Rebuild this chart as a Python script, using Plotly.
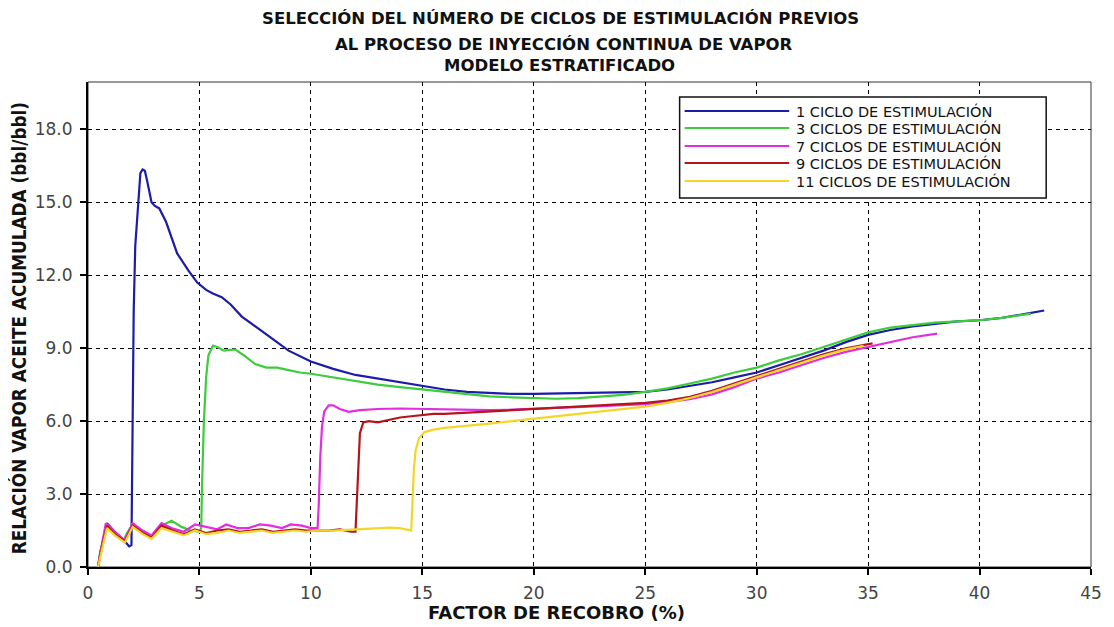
import plotly.graph_objects as go

# ---------------- data ----------------
series_names = [
    "1 CICLO DE ESTIMULACIÓN",
    "3 CICLOS DE ESTIMULACIÓN",
    "7 CICLOS DE ESTIMULACIÓN",
    "9 CICLOS DE ESTIMULACIÓN",
    "11 CICLOS DE ESTIMULACIÓN",
]

x_1ciclo = [0.45, 0.55, 0.85, 1.2, 1.5, 1.85, 1.95, 2.0, 2.05, 2.12, 2.25, 2.35, 2.45, 2.55,
            2.65, 2.85, 3.0, 3.2, 3.5, 4.0, 4.5, 4.9, 5.3, 5.6, 6.0, 6.4, 6.9, 7.5, 8.0, 9.0,
            10.0, 11.0, 12.0, 13.0, 14.0, 15.0, 16.0, 17.0, 18.0, 19.0, 20.0, 21.0, 22.0, 23.0,
            24.0, 25.0, 26.0, 27.0, 28.0, 29.0, 30.0, 31.0, 32.0, 33.0, 34.0, 35.0, 36.0, 37.0,
            38.0, 39.0, 40.0, 41.0, 42.0, 42.9]
y_1ciclo = [0.0, 0.6, 1.8, 1.45, 1.2, 0.85, 0.9, 5.0, 10.5, 13.2, 14.8, 16.2, 16.35, 16.3,
            15.9, 15.0, 14.85, 14.75, 14.2, 12.9, 12.2, 11.7, 11.4, 11.25, 11.1, 10.8, 10.3, 9.9,
            9.6, 8.9, 8.45, 8.15, 7.9, 7.75, 7.6, 7.45, 7.3, 7.2, 7.15, 7.12, 7.12, 7.13, 7.15,
            7.15, 7.17, 7.2, 7.3, 7.45, 7.6, 7.8, 8.0, 8.3, 8.6, 8.9, 9.25, 9.55, 9.75, 9.9,
            10.0, 10.1, 10.15, 10.25, 10.4, 10.55]

x_3ciclos = [0.45, 0.55, 0.85, 1.2, 1.6, 1.75, 2.0, 2.4, 2.85, 3.3, 3.75, 4.2, 4.6, 5.0, 5.08,
             5.12, 5.2, 5.3, 5.4, 5.6, 5.8, 6.1, 6.6, 7.0, 7.5, 8.0, 8.5, 9.0, 9.5, 10.0, 11.0,
             12.0, 13.0, 14.0, 15.0, 16.0, 17.0, 18.0, 19.0, 20.0, 21.0, 22.0, 23.0, 24.0, 25.0,
             26.0, 27.0, 28.0, 29.0, 30.0, 31.0, 32.0, 33.0, 34.0, 35.0, 36.0, 37.0, 38.0, 39.0,
             40.0, 41.0, 42.3]
y_3ciclos = [0.0, 0.6, 1.75, 1.4, 1.1, 1.4, 1.75, 1.5, 1.25, 1.7, 1.9, 1.65, 1.5, 1.45, 1.6,
             3.5, 6.0, 7.8, 8.7, 9.1, 9.05, 8.9, 8.95, 8.7, 8.35, 8.2, 8.2, 8.1, 8.0, 7.95, 7.8,
             7.65, 7.5, 7.4, 7.3, 7.2, 7.1, 7.02, 6.98, 6.95, 6.92, 6.95, 7.0, 7.08, 7.2,
             7.35, 7.55, 7.75, 8.0, 8.2, 8.5, 8.75, 9.05, 9.35, 9.65, 9.85, 9.95, 10.05, 10.1,
             10.15, 10.25, 10.42]

x_7ciclos = [0.45, 0.55, 0.8, 1.2, 1.65, 2.0, 2.45, 2.85, 3.3, 3.75, 4.3, 4.8, 5.3, 5.8, 6.2,
             6.7, 7.2, 7.7, 8.2, 8.7, 9.1, 9.6, 10.0, 10.3, 10.35, 10.42, 10.5, 10.6, 10.8, 11.0,
             11.3, 11.7, 12.2, 13.0, 14.0, 15.0, 16.0, 17.0, 18.0, 19.0, 20.0, 21.0, 22.0, 23.0,
             24.0, 25.0, 26.0, 27.0, 28.0, 29.0, 30.0, 31.0, 32.0, 33.0, 34.0, 35.0, 36.0, 37.0,
             38.1]
y_7ciclos = [0.0, 0.5, 1.8, 1.45, 1.1, 1.8, 1.5, 1.3, 1.8, 1.6, 1.45, 1.75, 1.65, 1.55, 1.75,
             1.6, 1.6, 1.75, 1.7, 1.6, 1.75, 1.7, 1.6, 1.6, 2.5, 4.5, 5.8, 6.4, 6.65, 6.65,
             6.5, 6.38, 6.45, 6.5, 6.52, 6.5, 6.48, 6.45, 6.45, 6.47, 6.5, 6.55, 6.58, 6.62,
             6.66, 6.7, 6.78, 6.9, 7.1, 7.4, 7.75, 8.0, 8.3, 8.6, 8.85, 9.05, 9.25, 9.45,
             9.6]

x_9ciclos = [0.45, 0.55, 0.85, 1.2, 1.65, 2.0, 2.45, 2.85, 3.3, 3.8, 4.3, 4.8, 5.3, 5.8, 6.3,
             6.8, 7.3, 7.8, 8.3, 8.8, 9.3, 9.8, 10.3, 10.8, 11.3, 11.8, 12.0, 12.05, 12.12, 12.2,
             12.35, 12.6, 13.0, 13.5, 14.0, 14.5, 15.0, 15.5, 16.0, 17.0, 18.0, 19.0, 20.0, 21.0,
             22.0, 23.0, 24.0, 25.0, 26.0, 27.0, 28.0, 29.0, 30.0, 31.0, 32.0, 33.0, 34.0, 35.2]
y_9ciclos = [0.0, 0.5, 1.7, 1.35, 1.05, 1.7, 1.4, 1.2, 1.7, 1.5, 1.35, 1.55, 1.4, 1.5, 1.55,
             1.45, 1.5, 1.55, 1.45, 1.5, 1.55, 1.5, 1.5, 1.5, 1.55, 1.45, 1.45, 2.5, 4.5, 5.5,
             5.95, 6.0, 5.95, 6.05, 6.15, 6.2, 6.25, 6.3, 6.3, 6.35, 6.4, 6.45, 6.5, 6.55,
             6.6, 6.65, 6.7, 6.75, 6.85, 7.0, 7.25, 7.55, 7.85, 8.15, 8.45, 8.75, 9.0, 9.2]

x_11ciclos = [0.45, 0.55, 0.85, 1.2, 1.65, 2.0, 2.45, 2.85, 3.3, 3.8, 4.3, 4.8, 5.3, 5.8, 6.3,
              6.8, 7.3, 7.8, 8.3, 8.8, 9.3, 9.8, 10.3, 11.0, 12.0, 12.5, 13.0, 13.5, 14.0, 14.5,
              14.55, 14.62, 14.7, 14.85, 15.1, 15.5, 16.0, 17.0, 18.0, 19.0, 20.0, 21.0, 22.0,
              23.0, 24.0, 25.0, 26.0, 27.0, 28.0, 29.0, 30.0, 31.0, 32.0, 33.0, 34.0, 34.8]
y_11ciclos = [0.0, 0.4, 1.6, 1.3, 1.0, 1.65, 1.35, 1.15, 1.6, 1.45, 1.3, 1.5, 1.35, 1.4, 1.5,
              1.4, 1.45, 1.5, 1.4, 1.45, 1.5, 1.45, 1.5, 1.5, 1.55, 1.6, 1.6, 1.62, 1.6, 1.5,
              2.5, 4.0, 4.8, 5.3, 5.55, 5.65, 5.72, 5.8, 5.9, 6.0, 6.1, 6.2, 6.3,
              6.4, 6.5, 6.6, 6.75, 6.95, 7.2, 7.5, 7.8, 8.1, 8.4, 8.7, 8.95, 9.1]

series_x = [x_1ciclo, x_3ciclos, x_7ciclos, x_9ciclos, x_11ciclos]
series_y = [y_1ciclo, y_3ciclos, y_7ciclos, y_9ciclos, y_11ciclos]
series_colors = ["#1c1ca8", "#3ccc3c", "#e22ee2", "#b4161c", "#f2d62a"]

x_ticks = [0, 5, 10, 15, 20, 25, 30, 35, 40, 45]
y_ticks = [0.0, 3.0, 6.0, 9.0, 12.0, 15.0, 18.0]

title_lines = [
    "SELECCIÓN DEL NÚMERO DE CICLOS DE ESTIMULACIÓN PREVIOS",
    "AL PROCESO DE INYECCIÓN CONTINUA DE VAPOR",
    "MODELO ESTRATIFICADO",
]
x_title = "FACTOR DE RECOBRO (%)"
y_title = "RELACIÓN VAPOR ACEITE ACUMULADA (bbl/bbl)"

# ---------------- layout geometry (screen pixels of the reference) ----------------
SCREEN_W, SCREEN_H = 1114, 627
OFF = 8                      # default page body margin
W, H = SCREEN_W - OFF, SCREEN_H - OFF
L, R, T, B = 88, 1095, 82, 567


def px(xp):
    return (xp - L) / (R - L)


def py(yp):
    return (B - yp) / (B - T)


fig = go.Figure()
for name, xs, ys, col in zip(series_names, series_x, series_y, series_colors):
    fig.add_trace(go.Scatter(x=xs, y=ys, mode="lines", name=name,
                             line=dict(color=col, width=2.2), showlegend=False))

shapes = [dict(type="rect", xref="paper", yref="paper", x0=0, x1=1, y0=0, y1=1,
               line=dict(color="#333333", width=1), layer="below")]
annotations = []

# titles
title_y_px = [18, 44, 66]
title_x_px = [562, 566, 561]
for txt, yy, xx in zip(title_lines, title_y_px, title_x_px):
    annotations.append(dict(text="<b>" + txt + "</b>", xref="paper", yref="paper",
                            x=px(xx), y=py(yy), showarrow=False, xanchor="center",
                            yanchor="middle",
                            font=dict(family="DejaVu Sans", size=16.5, color="#111111")))
annotations.append(dict(text="<b>" + x_title + "</b>", xref="paper", yref="paper",
                        x=px(558), y=py(612), showarrow=False, xanchor="center",
                        yanchor="middle",
                        font=dict(family="DejaVu Sans", size=18, color="#111111")))
annotations.append(dict(text="<b>" + y_title + "</b>", xref="paper", yref="paper",
                        x=px(18), y=py(328), showarrow=False, xanchor="center",
                        yanchor="middle", textangle=-90,
                        font=dict(family="Liberation Sans Narrow, DejaVu Sans Condensed, Liberation Sans",
                                  size=18.8, color="#111111")))

# custom legend box
shapes.append(dict(type="rect", xref="paper", yref="paper", x0=px(682), x1=px(1050),
                   y0=py(198), y1=py(97), line=dict(color="#111111", width=1.5),
                   fillcolor="white", layer="above"))
leg_y_px = [111, 128, 146, 163, 181]
for name, col, yy in zip(series_names, series_colors, leg_y_px):
    shapes.append(dict(type="line", xref="paper", yref="paper", x0=px(687), x1=px(792),
                       y0=py(yy), y1=py(yy), line=dict(color=col, width=2.2), layer="above"))
    annotations.append(dict(text=name, xref="paper", yref="paper", x=px(797), y=py(yy),
                            showarrow=False, xanchor="left", yanchor="middle",
                            font=dict(family="DejaVu Sans", size=14.5, color="#111111")))

axis_common = dict(showline=True, linecolor="black", linewidth=2, ticks="outside",
                   ticklen=6, tickcolor="black", tickwidth=1.5, showgrid=True,
                   gridcolor="black", gridwidth=1.2, griddash="4px,4px", zeroline=False,
                   tickfont=dict(family="DejaVu Sans", size=17, color="#444444"),
                   mirror=False)

fig.update_layout(
    width=W, height=H,
    margin=dict(l=L - OFF, r=SCREEN_W - R, t=T - OFF, b=SCREEN_H - B, pad=0),
    plot_bgcolor="white", paper_bgcolor="white",
    xaxis=dict(range=[0, 45], tickvals=x_ticks, ticktext=[str(v) for v in x_ticks],
               ticklabelstandoff=4, **axis_common),
    yaxis=dict(range=[0, 19.95], tickvals=y_ticks, ticktext=[f"{v:.1f}" for v in y_ticks],
               ticklabelstandoff=4, **axis_common),
    shapes=shapes, annotations=annotations, showlegend=False,
)

fig.write_html("out.html")
